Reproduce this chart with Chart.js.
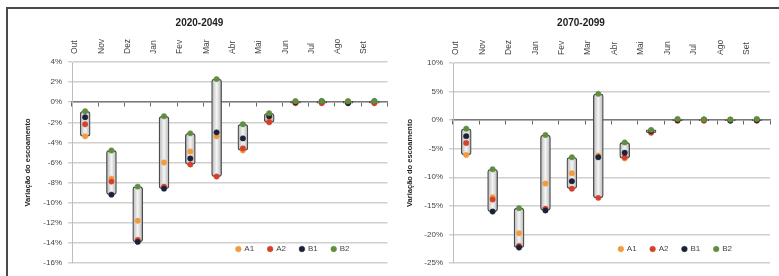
<!DOCTYPE html>
<html>
<head>
<meta charset="utf-8">
<script src="https://cdn.jsdelivr.net/npm/chart.js@4"></script>
<style>
	body { margin: 0; background: #fff; }
	#frame { position: absolute; left: 6px; top: 7px; width: 775px; height: 272px; border-top: 2px solid #4a4a4a; border-left: 2px solid #4a4a4a; }
	#near { position: absolute; left: 9px; top: 10px; }
	#far { position: absolute; left: 392px; top: 10px; }
</style>
</head>
<body>
<div id="frame"></div>
<canvas id="near" width="383" height="266"></canvas>
<canvas id="far" width="387" height="266"></canvas>
<script>
var months = ["Out", "Nov", "Dez", "Jan", "Fev", "Mar", "Abr", "Mai", "Jun", "Jul", "Ago", "Set"];
var scenarios = ["A1", "A2", "B1", "B2"];

// 2020-2049 (%)
var a1Near = [-3.4, -7.6, -11.8, -6.0, -4.9, -3.4, -4.8, -1.8, 0.1, 0.0, 0.1, 0.0];
var a2Near = [-2.2, -7.9, -13.7, -8.4, -6.2, -7.4, -4.6, -2.0, -0.1, -0.1, 0.0, -0.1];
var b1Near = [-1.5, -9.2, -13.9, -8.6, -5.6, -3.0, -3.6, -1.4, 0.0, 0.1, -0.1, 0.1];
var b2Near = [-0.9, -4.8, -8.4, -1.4, -3.1, 2.3, -2.2, -1.1, 0.1, 0.1, 0.1, 0.1];

// 2070-2099 (%)
var a1Far = [-6.1, -13.5, -19.8, -11.1, -9.3, -6.2, -6.7, -2.1, 0.1, 0.0, 0.1, 0.1];
var a2Far = [-4.0, -13.9, -22.0, -15.5, -12.0, -13.6, -6.5, -2.2, -0.1, -0.1, 0.0, -0.1];
var b1Far = [-2.8, -16.0, -22.3, -15.8, -10.7, -6.5, -5.7, -1.9, 0.0, 0.1, -0.1, 0.0];
var b2Far = [-1.5, -8.6, -15.4, -2.6, -6.5, 4.6, -3.9, -1.7, 0.2, 0.1, 0.1, 0.2];

var yRangeNear = [-16, 4, 2];
var yRangeFar = [-25, 10, 5];

var colors = ["#f39a3e", "#d6402b", "#1b2238", "#5f8f3e"];

// legend drawn inside the plot, bottom right
var legendInside = {
	id: "legendInside",
	beforeUpdate: function(chart) {
		var lg = chart.legend;
		if (lg && !lg.patched) {
			var fit = lg.fit;
			lg.fit = function() {
				fit.call(this);
				this.fullHeight = this.height;
				this.height = 0;
			};
			lg.patched = true;
		}
	},
	afterLayout: function(chart, args, opts) {
		var lg = chart.legend, area = chart.chartArea;
		var pad = lg.options.labels.padding;
		lg.height = lg.fullHeight;
		lg.top = area.bottom - opts.bottom - pad - 4;
		lg.bottom = lg.top + lg.height;
		lg.left = area.left;
		lg.right = area.right - opts.right + pad;
		lg.width = lg.right - lg.left;
	}
};

function buildChart(id, title, series, yRange, geo) {
	var lows = months.map(function(m, i) {
		return Math.min(series[0][i], series[1][i], series[2][i], series[3][i]);
	});
	var highs = months.map(function(m, i) {
		return Math.max(series[0][i], series[1][i], series[2][i], series[3][i]);
	});

	var datasets = [{
		type: "bar",
		label: "range",
		data: months.map(function(m, i) { return [lows[i], highs[i]]; }),
		backgroundColor: function(c) {
			var chart = c.chart;
			if (!chart.chartArea || c.dataIndex === undefined) return "#e6e6e6";
			var x = chart.scales.x.getPixelForValue(c.dataIndex);
			var g = chart.ctx.createLinearGradient(x - 5, 0, x + 5, 0);
			g.addColorStop(0, "#b5b5b5");
			g.addColorStop(0.5, "#f5f5f5");
			g.addColorStop(1, "#b5b5b5");
			return g;
		},
		borderColor: "#4d4d4d",
		borderWidth: 1.3,
		borderSkipped: false,
		borderRadius: 3,
		barThickness: 10,
		order: 5
	}];

	scenarios.forEach(function(name, k) {
		datasets.push({
			type: "line",
			label: name,
			data: series[k],
			showLine: false,
			backgroundColor: colors[k],
			borderColor: colors[k],
			pointRadius: 2.7,
			pointBorderWidth: 0.5,
			pointStyle: "circle",
			order: 4 - k
		});
	});

	return new Chart(document.getElementById(id), {
		type: "bar",
		data: { labels: months, datasets: datasets },
		plugins: [legendInside],
		options: {
			responsive: false,
			animation: false,
			devicePixelRatio: 1,
			layout: { padding: { left: 0, right: geo.right, top: 0, bottom: 13 } },
			plugins: {
				title: {
					display: true,
					text: title,
					color: "#222",
					font: { family: "Liberation Sans", size: 10, weight: "bold" },
					padding: { top: 7, bottom: 3 }
				},
				legend: {
					position: "bottom",
					align: "end",
					labels: {
						filter: function(item) { return item.datasetIndex > 0; },
						sort: function(a, b) { return a.datasetIndex - b.datasetIndex; },
						usePointStyle: true,
						boxWidth: 4,
						boxHeight: 4,
						padding: 14,
						color: "#444",
						font: { family: "Liberation Sans", size: 8 }
					}
				},
				legendInside: { bottom: 14, right: 38 },
				tooltip: { enabled: false }
			},
			scales: {
				x: {
					type: "category",
					position: "top",
					offset: true,
					grid: { display: false, drawTicks: false },
					border: { display: false },
					ticks: {
						minRotation: 90,
						maxRotation: 90,
						autoSkip: false,
						padding: 8,
						color: "#444",
						font: { family: "Liberation Sans", size: 8.5 }
					},
					afterFit: function(s) { s.height = geo.xHeight; }
				},
				x0: {
					type: "category",
					position: { y: 0 },
					offset: true,
					ticks: { display: false },
					grid: { drawOnChartArea: false, drawTicks: true, tickLength: 4, offset: true, color: "#666", lineWidth: 1 },
					border: { color: "#7a7a7a", width: 1.5 }
				},
				y: {
					min: yRange[0],
					max: yRange[1],
					ticks: {
						stepSize: yRange[2],
						padding: 6,
						color: "#444",
						font: { family: "Liberation Sans", size: 8 },
						callback: function(v) { return v + "%"; }
					},
					grid: { color: "#d0d0d0", lineWidth: 1.5, tickLength: 4 },
					border: { color: "#bdbdbd", width: 1 },
					title: {
						display: true,
						text: "Variação do escoamento",
						color: "#222",
						font: { family: "Liberation Sans", size: 7.5, weight: "bold" },
						padding: { top: geo.titlePad, bottom: 4 }
					},
					afterFit: function(s) { s.width = geo.yWidth; }
				}
			}
		}
	});
}

buildChart("near", "2020-2049", [a1Near, a2Near, b1Near, b2Near], yRangeNear,
	{ right: 2, xHeight: 30, yWidth: 63, titlePad: 14 });
buildChart("far", "2070-2099", [a1Far, a2Far, b1Far, b2Far], yRangeFar,
	{ right: 9, xHeight: 31, yWidth: 61, titlePad: 13 });
</script>
</body>
</html>
